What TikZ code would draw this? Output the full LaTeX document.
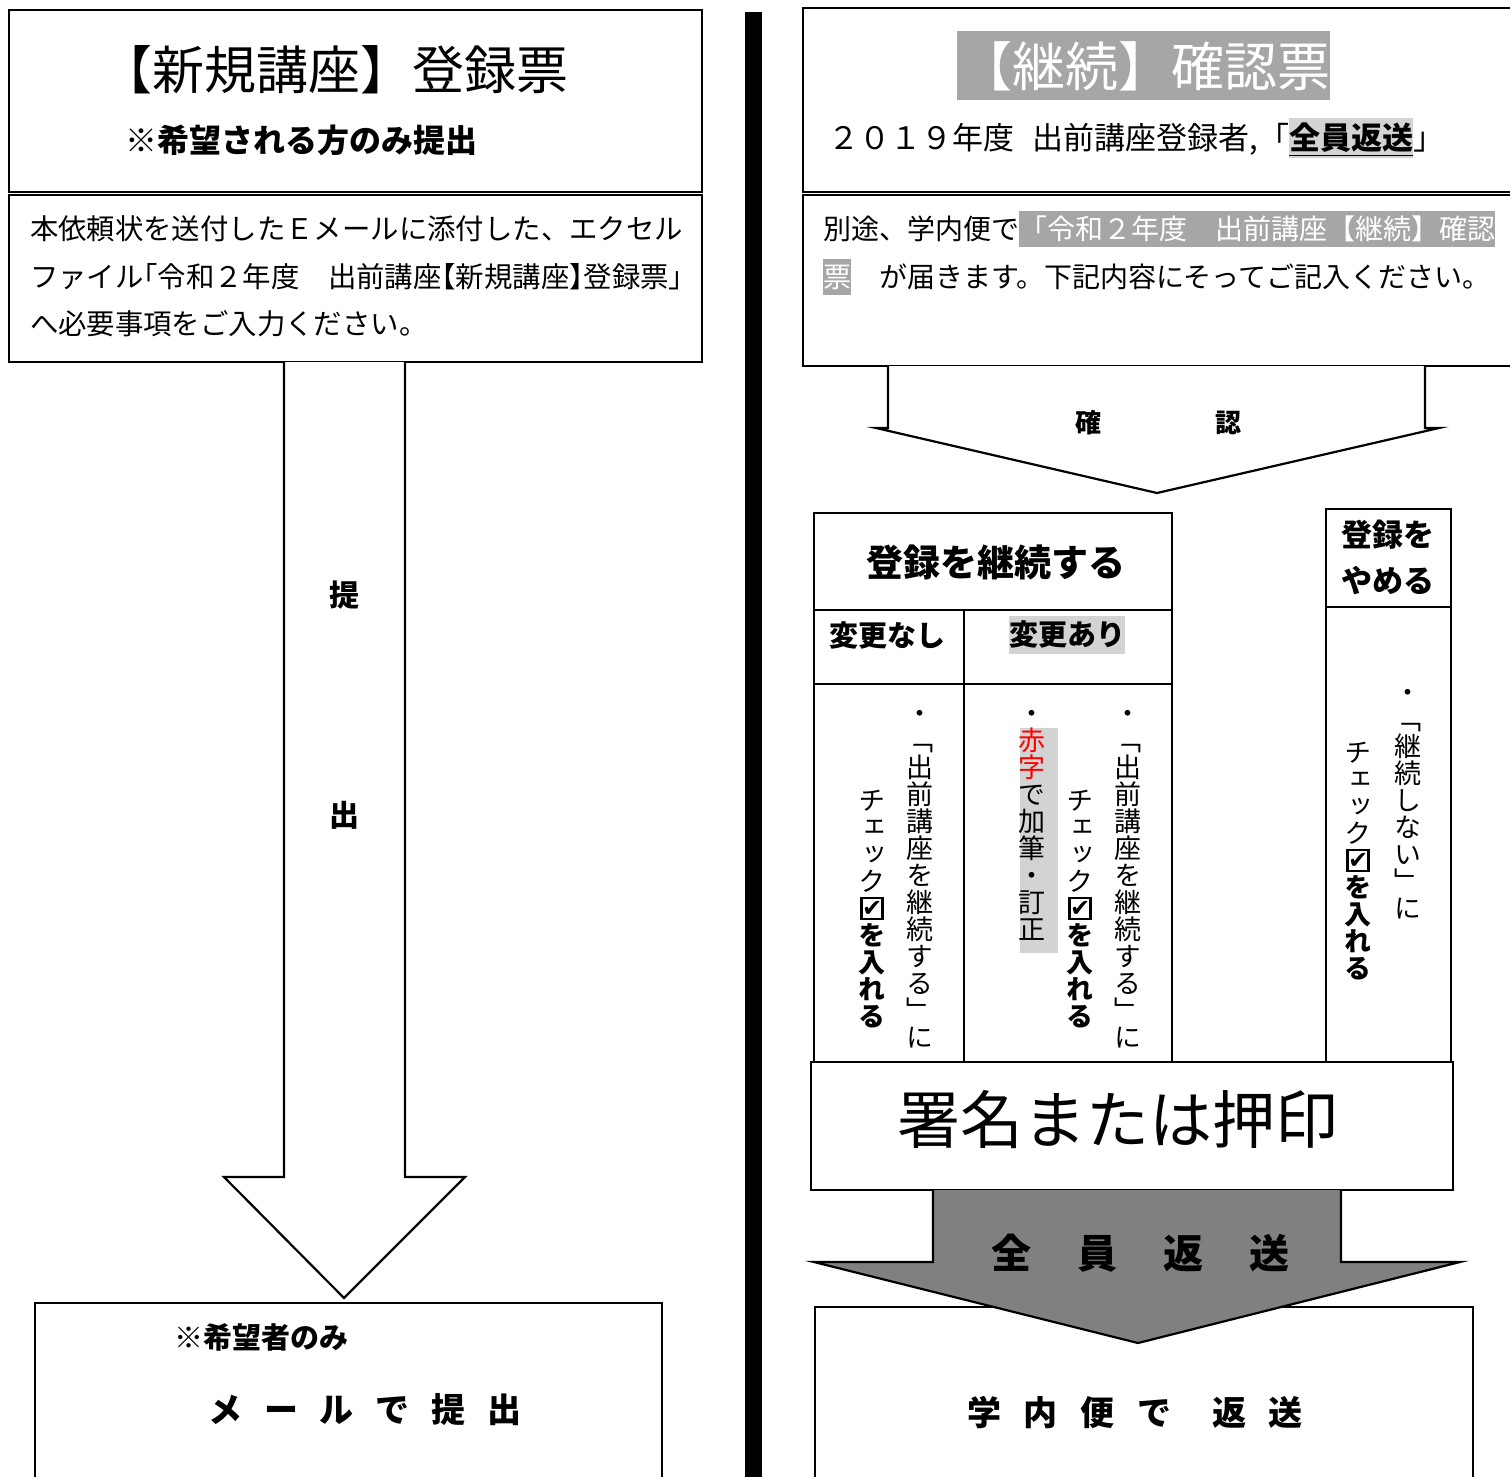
\documentclass[tikz,border=0pt]{standalone}
\usepackage{fontspec}
\setmainfont{Noto Sans CJK JP}
\newfontfamily\vfont{Noto Sans CJK JP}[RawFeature=+vert]
\newfontfamily\djv{DejaVu Sans}
\definecolor{titlegray}{HTML}{A6A6A6}
\definecolor{hlgray}{HTML}{D3D3D3}
\definecolor{arrowgray}{HTML}{808080}
\newcommand\fsz[1]{\fontsize{#1}{#1}\selectfont}
\newcommand\jst{\rule[-0.12em]{0pt}{1em}}
\newcommand\hlbox[2]{{\setlength\fboxsep{0pt}\colorbox{#1}{\rule[-0.264em]{0pt}{1.286em}#2}}}
\newcommand\hopen[1]{\makebox[0.5em][r]{#1}}
\newcommand\hclose[1]{\makebox[0.5em][l]{#1}}
\newcommand\vch[1]{\hbox to 1em{\hss\vrule width 0pt height 0.88em depth 0.12em\relax #1\hss}}
\def\vsegloop#1{\ifx#1\vsegend\else\vch{#1}\expandafter\vsegloop\fi}
\newcommand\vseg[1]{\vsegloop#1\vsegend}
\newcommand\vstack[1]{\vtop{\offinterlineskip #1}}
\newcommand\mychk{\begingroup\setlength\fboxrule{1.2pt}\setlength\fboxsep{0pt}%
  \fbox{\rule{0pt}{0.68em}\rule{0.68em}{0pt}}%
  \llap{\raisebox{0.06em}{\djv\fontsize{12}{12}\selectfont ✔}\kern0.05em}\endgroup}
\newcommand\chk{\vch{\raisebox{0.02em}{\mychk}}}
\begin{document}
\begin{tikzpicture}[x=0.5pt,y=-0.5pt,
  box/.style={draw, line width=0.75pt},
  tbl/.style={draw, line width=1.2pt},
  blk/.style={draw, line width=1.1pt, line join=miter},
  t/.style={inner sep=0pt, outer sep=0pt},
  vt/.style={inner sep=0pt, outer sep=0pt, anchor=north, font=\vfont\fsz{13.5}}]
\useasboundingbox (0,0) rectangle (1510,1477);
\clip (0,0) rectangle (1510,1477);
\fill[white] (0,0) rectangle (1510,1477);

% ---------------- left side ----------------
\draw[box] (9,10) rectangle (702,192);
\node[t] (ltitle) at (334,70) {\fsz{26}\jst【新規講座】登録票};
\node[t] (lsub) at (301,140) {\fsz{16}\bfseries\jst ※希望される方のみ提出};
\draw[box] (9,195) rectangle (702,362);
\node[t,anchor=west] (lb1) at (30,229) {\fsz{14.2}\jst 本依頼状を送付したＥメールに添付した、エクセル};
\node[t,anchor=west] (lb2) at (30,277) {\fsz{14.2}\jst ファイル\hopen{「}令和２年度　出前講座\hopen{【}新規講座\hclose{】}登録票」};
\node[t,anchor=west] (lb3) at (30,324) {\fsz{14.2}\jst へ必要事項をご入力ください。};

\draw[blk, fill=white] (284,362) -- (284,1177) -- (224,1177) -- (344,1298) -- (465,1177) -- (405,1177) -- (405,362);
\node[t] (tei) at (344,595) {\fsz{15}\bfseries\jst 提};
\node[t] (shutsu) at (344,815) {\fsz{15}\bfseries\jst 出};

\draw[box] (35,1490) -- (35,1303) -- (662,1303) -- (662,1490);
\node[t] (kibou) at (261,1337) {\fsz{14.5}\bfseries\jst ※希望者のみ};
\node[t] (mail) at (365,1410) {\fsz{17}\bfseries\jst メ\kern11pt ー\kern11pt ル\kern11pt で\kern11pt 提\kern11pt 出};

% separator
\fill (745,12) rectangle (762,1490);

% ---------------- right side ----------------
\draw[box] (803,8) rectangle (1530,192);
\fill[titlegray] (957,31) rectangle (1330,100);
\node[t,text=white] (rtitle) at (1145,66) {\fsz{26.5}\jst【継続】確認票};
\node[t,anchor=west] (rsub) at (828,138) {\fsz{15.5}\jst ２０１９年度\hspace{0.6em}出前講座登録者,「\hlbox{hlgray}{\bfseries\underline{全員返送}}」};

\draw[box] (803,195) rectangle (1530,366);
\node[t,anchor=west] (rb1) at (823,229) {\fsz{14}\jst 別途、学内便で\hlbox{titlegray}{\color{white}「令和２年度　出前講座【継続】確認}};
\node[t,anchor=west] (rb2) at (823,277) {\fsz{14}\jst\hlbox{titlegray}{\color{white}票}　が届きます。下記内容にそってご記入ください。};

\draw[blk, fill=white] (888,366) -- (888,428) -- (876,428) -- (1157,493) -- (1439,428) -- (1425,428) -- (1425,366);
\node[t] (kaku) at (1088,423) {\fsz{13}\bfseries\jst 確};
\node[t] (nin) at (1228,423) {\fsz{13}\bfseries\jst 認};

% table: continue
\draw[tbl] (814,1062) -- (814,513) -- (1172,513) -- (1172,1062);
\draw[tbl] (814,610) -- (1172,610);
\draw[tbl] (814,684) -- (1172,684);
\draw[tbl] (964,610) -- (964,1062);
\node[t] (keizoku) at (996,562) {\fsz{18.5}\bfseries\jst 登録を継続する};
\node[t] (nashi) at (887,635) {\fsz{14.5}\bfseries\jst 変更なし};
\node[t] (ari) at (1067,635) {\fsz{14.5}\bfseries\jst\hlbox{hlgray}{変更あり}};

\node[vt] (c1a) at (920,699.5) {\vstack{\vseg{・「出前講座を継続する」に}}};
\node[vt] (c1b) at (872,786.5) {\vstack{\vseg{チェック}\chk\bfseries\vseg{を入れる}}};
\node[vt] (c2a) at (1128,699.5) {\vstack{\vseg{・「出前講座を継続する」に}}};
\node[vt] (c2b) at (1080,786.5) {\vstack{\vseg{チェック}\chk\bfseries\vseg{を入れる}}};
\fill[hlgray] (1020,728) rectangle (1058,953);
\node[vt] (c2c) at (1032,699.5) {\vstack{\vseg{・}\vch{\textcolor{red}{赤}}\vch{\textcolor{red}{字}}\vseg{で加筆・訂正}}};

% table: stop
\draw[tbl] (1326,1062) -- (1326,509) -- (1451,509) -- (1451,1062);
\draw[tbl] (1326,607) -- (1451,607);
\node[t] (yame1) at (1388,535) {\fsz{15.5}\bfseries\jst 登録を};
\node[t] (yame2) at (1388,581) {\fsz{15.5}\bfseries\jst やめる};
\node[vt] (c3a) at (1408,678.5) {\vstack{\vseg{・「継続しない」に}}};
\node[vt] (c3b) at (1358,738.5) {\vstack{\vseg{チェック}\chk\bfseries\vseg{を入れる}}};

% signature
\draw[box, fill=white] (811,1062) rectangle (1453,1190);
\node[t] (shomei) at (1118,1120) {\fsz{31.5}\jst 署名または押印};

% return box and gray arrow
\draw[box] (815,1490) -- (815,1307) -- (1473,1307) -- (1473,1490);
\draw[blk, fill=arrowgray] (933,1190) -- (933,1262) -- (814,1262) -- (1138,1343) -- (1460,1262) -- (1341,1262) -- (1341,1190);
\node[t] (zenin) at (1140,1253) {\fsz{20}\bfseries\jst 全\kern23pt 員\kern23pt 返\kern23pt 送};
\node[t] (gakunai) at (1135,1413) {\fsz{17}\bfseries\jst 学\kern11.25pt 内\kern11.25pt 便\kern11.25pt で\kern20.5pt 返\kern11.25pt 送};
\end{tikzpicture}
\end{document}
